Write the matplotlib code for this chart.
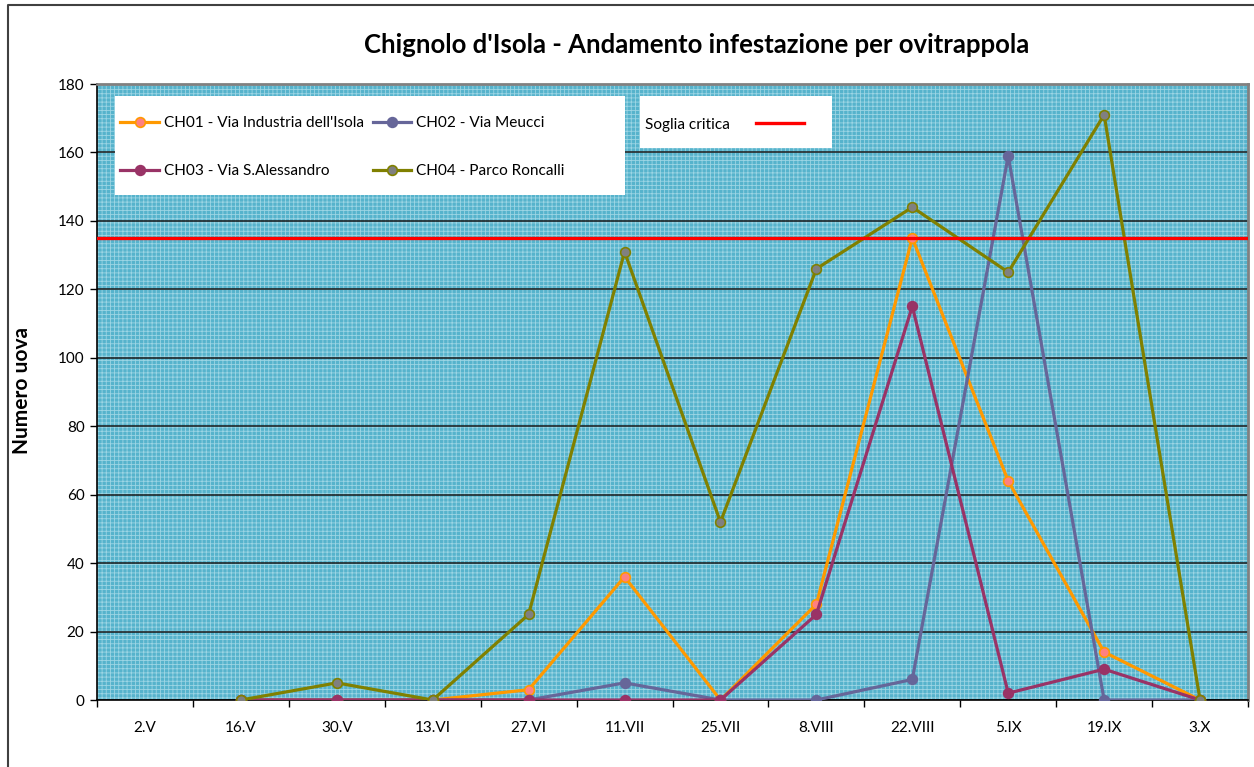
import numpy as np
import matplotlib
matplotlib.use("Agg")
import matplotlib.pyplot as plt
from matplotlib.patches import Rectangle
from matplotlib.lines import Line2D

plt.rcParams["font.family"] = ["Lato", "DejaVu Sans"]
plt.rcParams["hatch.linewidth"] = 0.6

# data (2.V has no readings)
dates = ["2.V", "16.V", "30.V", "13.VI", "27.VI", "11.VII", "25.VII",
         "8.VIII", "22.VIII", "5.IX", "19.IX", "3.X"]
ch01 = [None, 0, 0, 0, 3, 36, 0, 28, 135, 64, 14, 0]
ch02 = [None, 0, 0, 0, 0, 5, 0, 0, 6, 159, 0, 0]
ch03 = [None, 0, 0, 0, 0, 0, 0, 25, 115, 2, 9, 0]
ch04 = [None, 0, 5, 0, 25, 131, 52, 126, 144, 125, 171, 0]
soglia = 135
yticks = list(range(0, 181, 20))

series = [
    ("CH01 - Via Industria dell'Isola", ch01, "#FF9900", "#FF8080", "#FF9900"),
    ("CH02 - Via Meucci", ch02, "#666699", "#666699", "#666699"),
    ("CH03 - Via S.Alessandro", ch03, "#993366", "#993366", "#993366"),
    ("CH04 - Parco Roncalli", ch04, "#808000", "#808080", "#808000"),
]

fig = plt.figure(figsize=(12.54, 7.67), dpi=100)
ax = fig.add_axes([97 / 1254, 1 - 700 / 767, 1151 / 1254, 616 / 767])

# patterned teal background
ax.set_facecolor("#56B3CC")
ax.add_patch(Rectangle((0, 0), 1, 1, transform=ax.transAxes, facecolor="none",
                       edgecolor="#9CD5E4", hatch="++++", lw=0, zorder=0.1))

x = np.arange(len(dates))
handles = {}
for name, vals, lc, mfc, mec in series:
    y = np.array([np.nan if v is None else v for v in vals], dtype=float)
    h, = ax.plot(x, y, color=lc, lw=2.3, marker="o", ms=7, mfc=mfc, mec=mec,
                 mew=1.2, zorder=3, label=name)
    handles[name] = h

red = ax.axhline(soglia, color="#FF0000", lw=2.4, zorder=4)

ax.set_xlim(-0.5, len(dates) - 0.5)
ax.set_ylim(0, 180)
ax.set_yticks(yticks)
ax.yaxis.grid(True, color="#1a1a1a", lw=1.1, zorder=1)
ax.set_axisbelow(True)
ax.set_xticks(np.arange(-0.5, len(dates), 1.0))
ax.set_xticklabels([])
ax.set_xticks(x, minor=True)
ax.set_xticklabels(dates, minor=True)
ax.tick_params(axis="x", which="minor", length=0, pad=15, labelsize=11)
ax.tick_params(axis="x", which="major", length=5, width=1, direction="out")
ax.tick_params(axis="y", length=5, width=1, direction="out", labelsize=11, pad=4)
for s in ["left", "bottom"]:
    ax.spines[s].set_color("black")
    ax.spines[s].set_linewidth(1.2)
for s in ["top", "right"]:
    ax.spines[s].set_color("#808080")
    ax.spines[s].set_linewidth(2)

fig.text(22 / 1254, 1 - 390 / 767, "Numero uova", rotation=90, ha="center", va="center",
         fontsize=15, fontweight="bold")
fig.text(697 / 1254, 1 - 45 / 767, "Chignolo d'Isola - Andamento infestazione per ovitrappola",
         ha="center", va="center", fontsize=18.5, fontweight="bold")

# legend boxes
ax.add_patch(Rectangle((18 / 1151, 505 / 616), 510 / 1151, 99 / 616, transform=ax.transAxes,
                       facecolor="white", edgecolor="none", zorder=5))
ax.add_patch(Rectangle((543 / 1151, 552 / 616), 192 / 1151, 52 / 616, transform=ax.transAxes,
                       facecolor="white", edgecolor="none", zorder=5))
order = [series[0][0], series[2][0], series[1][0], series[3][0]]
leg = ax.legend([handles[n] for n in order], order, ncol=2, frameon=False,
                loc="upper left", bbox_to_anchor=(11 / 1151, 1 - 20 / 616),
                fontsize=11.1, handlelength=2.5, handletextpad=0.3,
                columnspacing=0.6, labelspacing=2.2, borderpad=0.3)
leg.set_zorder(6)
leg2 = ax.legend([Line2D([0], [0], color="#FF0000", lw=2.4)], ["Soglia critica"],
                 frameon=False, loc="upper left", bbox_to_anchor=(534 / 1151, 1 - 20 / 616),
                 fontsize=11.1, handlelength=3.1, handletextpad=1.7, markerfirst=False)
leg2.set_zorder(6)
ax.add_artist(leg)

# outer chart border
fig.add_artist(Line2D([8 / 1254, 8 / 1254, 1.0], [0.0, 1 - 5 / 767, 1 - 5 / 767],
                      color="#404040", lw=1.5))

fig.savefig("out.png", dpi=100)
